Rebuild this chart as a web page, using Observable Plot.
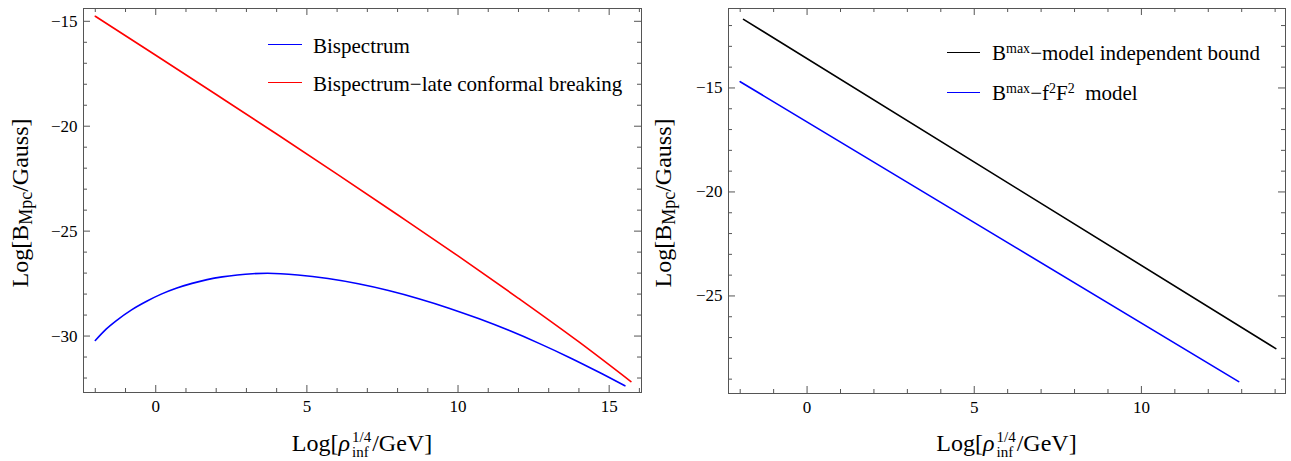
<!DOCTYPE html>
<html><head><meta charset="utf-8">
<script src="https://cdn.jsdelivr.net/npm/d3@7"></script>
<script src="https://cdn.jsdelivr.net/npm/@observablehq/plot@0.6"></script>
<style>
html,body{margin:0;padding:0;background:#fff;}
#root{position:relative;width:1291px;height:461px;overflow:hidden;font-family:"Liberation Serif","Times New Roman",serif;color:#000;}
.panel{position:absolute;top:0;}
.panel svg text{font-family:"Liberation Serif","Times New Roman",serif;}
.lbl{position:absolute;white-space:nowrap;font-size:24px;line-height:1;}
.ylbl{transform:translate(-50%,-50%) rotate(-90deg);}
.sub{font-size:18px;vertical-align:-4px;}
.ss{display:inline-block;vertical-align:-6px;font-size:15px;line-height:15px;margin:0 1px 0 2px;text-align:left;}
.ss span{display:block;}
.leg{position:absolute;font-size:21px;line-height:1;white-space:nowrap;}
.sup{font-size:14px;vertical-align:7px;}
.sw{position:absolute;height:0;border-top:1.6px solid;}
</style></head><body><div id="root"></div>
<script>
// ---------- data ----------
// Left panel
const leftBlueX = [-2, -1.65, -1.3, -0.8, -0.3, 0.2, 0.7, 1.2, 1.7, 2.2, 2.7, 3.2, 3.7, 4.7, 5.7, 6.7, 7.7, 8.7, 9.7, 10.7, 11.7, 12.7, 13.7, 14.7, 15.52];
const leftBlueY = [-30.21, -29.68, -29.26, -28.75, -28.34, -27.99, -27.71, -27.49, -27.31, -27.18, -27.09, -27.03, -27.01, -27.09, -27.26, -27.51, -27.83, -28.22, -28.67, -29.18, -29.74, -30.36, -31.03, -31.75, -32.37];
const leftRedX = [-2, 0, 2, 4, 6, 8, 10, 12, 14, 15.72];
const leftRedY = [-14.76, -16.62, -18.49, -20.37, -22.28, -24.22, -26.18, -28.2, -30.28, -32.17];
// Right panel
const rightBlackX = [-1.9, 14.02];
const rightBlackY = [-11.7, -27.53];
const rightBlueX = [-2, 12.91];
const rightBlueY = [-14.7, -29.12];

// tick labels / tick positions
const leftXTicks = [0, 5, 10, 15];
const leftXMinor = [-2, -1, 1, 2, 3, 4, 6, 7, 8, 9, 11, 12, 13, 14, 16];
const leftYTicks = [-15, -20, -25, -30];
const leftYMinor = [-16, -17, -18, -19, -21, -22, -23, -24, -26, -27, -28, -29, -31, -32];
const rightXTicks = [0, 5, 10];
const rightXMinor = [-2, -1, 1, 2, 3, 4, 6, 7, 8, 9, 11, 12, 13, 14];
const rightYTicks = [-15, -20, -25];
const rightYMinor = [-12, -13, -14, -16, -17, -18, -19, -21, -22, -23, -24, -26, -27, -28, -29];

const leftLegend = ["Bispectrum", "Bispectrum\u2212late conformal breaking"];

// ---------- drawing ----------
const H = 461;
const root = document.getElementById("root");
const FRAME = "#555";
const SERIF = '"Liberation Serif","Times New Roman",serif';

function panel(o) {
  const pw = o.width - o.marginLeft - o.marginRight;
  const ph = H - o.marginTop - o.marginBottom;
  const id = d => d;
  const marks = [
    Plot.tickX(o.xTicks, {x: id, insetTop: ph - 7, stroke: FRAME}),
    Plot.tickX(o.xTicks, {x: id, insetBottom: ph - 7, stroke: FRAME}),
    Plot.tickX(o.xMinor, {x: id, insetTop: ph - 4, stroke: FRAME}),
    Plot.tickX(o.xMinor, {x: id, insetBottom: ph - 4, stroke: FRAME}),
    Plot.tickY(o.yTicks, {y: id, insetRight: pw - 7, stroke: FRAME}),
    Plot.tickY(o.yTicks, {y: id, insetLeft: pw - 7, stroke: FRAME}),
    Plot.tickY(o.yMinor, {y: id, insetRight: pw - 4, stroke: FRAME}),
    Plot.tickY(o.yMinor, {y: id, insetLeft: pw - 4, stroke: FRAME}),
    ...o.lines.map(l => Plot.line(l.x, {x: l.x, y: l.y, stroke: l.color, strokeWidth: 1.6, curve: l.curve || "linear"})),
    Plot.frame({stroke: FRAME, strokeWidth: 1}),
    Plot.axisX(o.xTicks, {tickSize: 0, tickPadding: 7, label: null, fontFamily: SERIF, fontSize: 17, fill: "#000"}),
    Plot.axisY(o.yTicks, {tickSize: 0, tickPadding: 6, label: null, fontFamily: SERIF, fontSize: 17, fill: "#000"})
  ];
  const svg = Plot.plot({
    width: o.width, height: H,
    marginLeft: o.marginLeft, marginRight: o.marginRight, marginTop: o.marginTop, marginBottom: o.marginBottom,
    x: {domain: o.xDomain}, y: {domain: o.yDomain},
    style: {fontFamily: SERIF, fontSize: "17px", color: "#000", background: "transparent"},
    marks
  });
  const div = document.createElement("div");
  div.className = "panel";
  div.style.left = o.left + "px";
  div.appendChild(svg);
  root.appendChild(div);
}

panel({
  left: 0, width: 645, marginLeft: 83, marginRight: 4, marginTop: 8, marginBottom: 69,
  xDomain: [-2.39, 16.07], yDomain: [-32.69, -14.39],
  xTicks: leftXTicks, xMinor: leftXMinor, yTicks: leftYTicks, yMinor: leftYMinor,
  lines: [
    {x: leftRedX, y: leftRedY, color: "#ff0000", curve: "monotone-x"},
    {x: leftBlueX, y: leftBlueY, color: "#0000ff", curve: "monotone-x"}
  ]
});
panel({
  left: 645, width: 646, marginLeft: 83, marginRight: 6, marginTop: 8, marginBottom: 68,
  xDomain: [-2.35, 14.31], yDomain: [-29.69, -11.18],
  xTicks: rightXTicks, xMinor: rightXMinor, yTicks: rightYTicks, yMinor: rightYMinor,
  lines: [
    {x: rightBlackX, y: rightBlackY, color: "#000000"},
    {x: rightBlueX, y: rightBlueY, color: "#0000ff"}
  ]
});

// ---------- text (HTML, with sub/superscripts) ----------
function place(el, x, baselineY, anchor) {
  el.style.left = "0px"; el.style.top = "0px";
  root.appendChild(el);
  const probe = document.createElement("span");
  probe.style.cssText = "display:inline-block;width:0;height:0;vertical-align:baseline";
  el.appendChild(probe);
  const r = el.getBoundingClientRect();
  const pr = probe.getBoundingClientRect();
  const base = pr.bottom - r.top;
  el.style.top = (baselineY - base) + "px";
  el.style.left = (anchor === "middle" ? x - r.width / 2 : x) + "px";
}
function xLabel(cx) {
  const el = document.createElement("div");
  el.className = "lbl";
  el.innerHTML = 'Log[<i>\u03C1</i><span class="ss"><span>1/4</span><span>inf</span></span>/GeV]';
  place(el, cx, 451, "middle");
}
function yLabel(cx, cy) {
  const el = document.createElement("div");
  el.className = "lbl ylbl";
  el.innerHTML = 'Log[B<span class="sub">Mpc</span>/Gauss]';
  el.style.left = cx + "px"; el.style.top = cy + "px";
  root.appendChild(el);
}
function legendRow(x0, x1, yLine, tx, baseline, color, html) {
  const sw = document.createElement("div");
  sw.className = "sw";
  sw.style.left = x0 + "px"; sw.style.width = (x1 - x0) + "px";
  sw.style.top = (yLine - 0.8) + "px"; sw.style.borderColor = color;
  root.appendChild(sw);
  const el = document.createElement("div");
  el.className = "leg";
  el.innerHTML = html;
  place(el, tx, baseline, "start");
}

xLabel(362);
xLabel(1006.5);
yLabel(21, 203);
yLabel(664, 203);

legendRow(268, 302, 45, 313, 53, "#0000ff", leftLegend[0]);
legendRow(268, 302, 83, 313, 91, "#ff0000", leftLegend[1]);
legendRow(947, 980, 53, 992, 60, "#000000", 'B<span class="sup">max</span>\u2212model independent bound');
legendRow(947, 980, 93, 992, 100, "#0000ff", 'B<span class="sup">max</span>\u2212f<span class="sup">2</span>F<span class="sup">2</span>\u2002model');
</script></body></html>
